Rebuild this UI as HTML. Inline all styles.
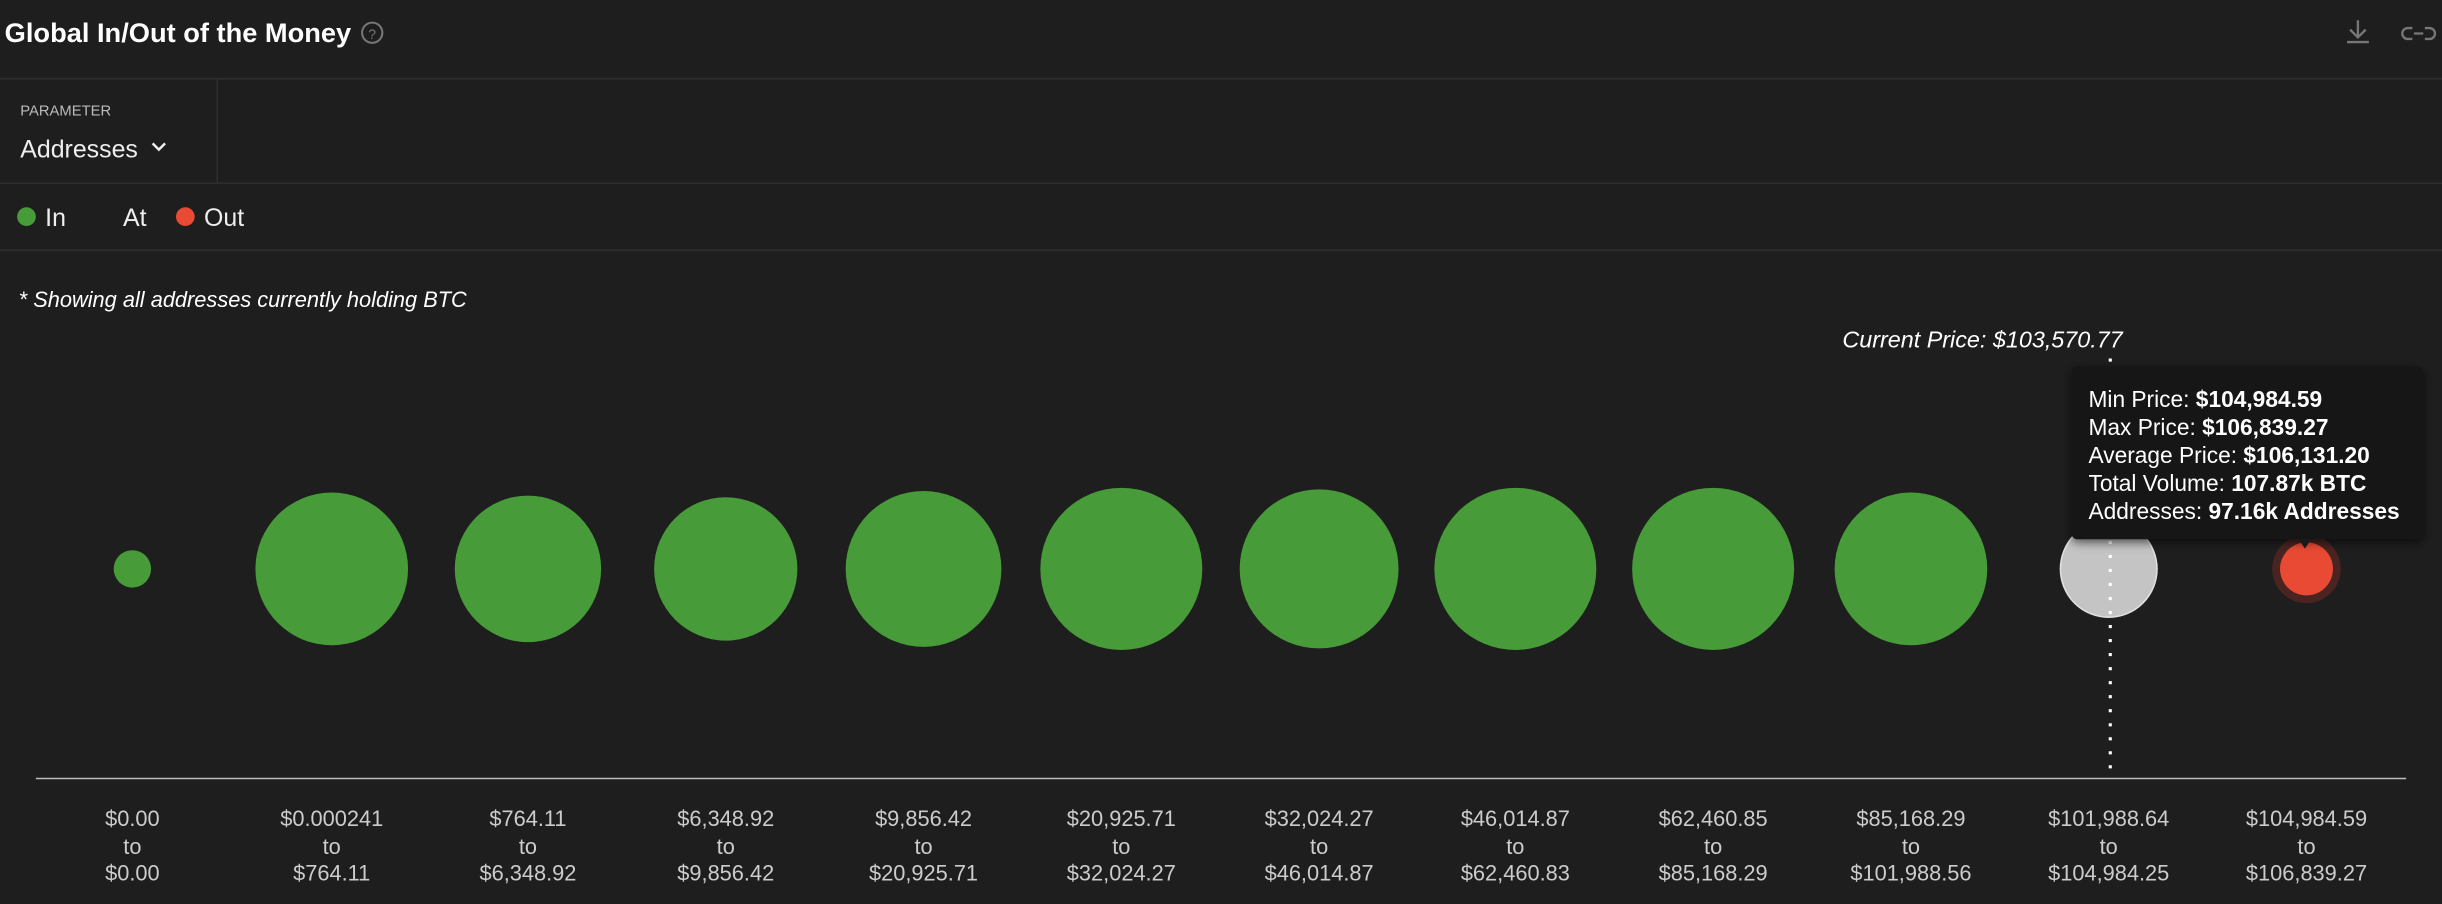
<!DOCTYPE html>
<html><head><meta charset="utf-8"><style>
html,body{margin:0;padding:0;background:#1e1e1e;}
svg{display:block;}
text{font-family:"Liberation Sans",sans-serif;}
</style></head><body>
<svg width="2442" height="904" viewBox="0 0 1568 580" preserveAspectRatio="none" xmlns="http://www.w3.org/2000/svg">
<defs><filter id="sh" x="-10%" y="-10%" width="120%" height="130%"><feDropShadow dx="0" dy="2" stdDeviation="3" flood-color="#000" flood-opacity="0.6"/></filter></defs>
<rect width="1568" height="580" fill="#1e1e1e"/>
<text x="3" y="27" fill="#fff" font-size="17.5" font-weight="bold">Global In/Out of the Money</text>
<circle cx="239" cy="21" r="6.5" fill="none" stroke="#777" stroke-width="1.3"/>
<text x="239" y="25" fill="#777" font-size="9" text-anchor="middle">?</text>
<g stroke="#777" stroke-width="1.5" fill="none">
<path d="M1514 13v11M1509 19l5 5 5-5M1507 27h14"/>
<path d="M1549 18h-3a3.5 3.5 0 0 0 0 7h3M1557 18h3a3.5 3.5 0 0 1 0 7h-3M1550 21.5h6"/>
</g>
<line x1="0" y1="50.5" x2="1568" y2="50.5" stroke="#2e2e2e"/>
<line x1="139.5" y1="51" x2="139.5" y2="117" stroke="#2e2e2e"/>
<line x1="0" y1="117.5" x2="1568" y2="117.5" stroke="#2e2e2e"/>
<text x="13" y="74" fill="#bbb" font-size="9.5">PARAMETER</text>
<text x="13" y="101" fill="#eee" font-size="16">Addresses</text>
<path d="M98 92l4 4 4-4" stroke="#eee" stroke-width="1.6" fill="none"/>
<circle cx="17" cy="139" r="6" fill="#479b39"/>
<text x="29" y="145" fill="#eee" font-size="16">In</text>
<text x="79" y="145" fill="#eee" font-size="16">At</text>
<circle cx="119" cy="139" r="6" fill="#e84a33"/>
<text x="131" y="145" fill="#eee" font-size="16">Out</text>
<line x1="0" y1="160.5" x2="1568" y2="160.5" stroke="#2e2e2e"/>
<text x="12" y="197" fill="#fff" font-size="14" font-style="italic">* Showing all addresses currently holding BTC</text>
<text x="1363" y="223" fill="#fff" font-size="15" font-style="italic" text-anchor="end">Current Price: $103,570.77</text>
<g fill="#479b39">
<circle cx="85" cy="365" r="12"/>
<circle cx="213" cy="365" r="49"/>
<circle cx="339" cy="365" r="47"/>
<circle cx="466" cy="365" r="46"/>
<circle cx="593" cy="365" r="50"/>
<circle cx="720" cy="365" r="52"/>
<circle cx="847" cy="365" r="51"/>
<circle cx="973" cy="365" r="52"/>
<circle cx="1100" cy="365" r="52"/>
<circle cx="1227" cy="365" r="49"/>
</g>
<circle cx="1354" cy="365" r="31" fill="#c4c4c4" stroke="#e0e0e0" stroke-width="1"/>
<circle cx="1481" cy="365" r="22" fill="#4a2420"/>
<circle cx="1481" cy="365" r="17" fill="#e84a33"/>
<line x1="1355" y1="230" x2="1355" y2="500" stroke="#fff" stroke-width="2" stroke-dasharray="2 7"/>
<line x1="23" y1="499.5" x2="1545" y2="499.5" stroke="#bbb" stroke-width="1"/>
<g fill="#ccc" font-size="14" text-anchor="middle">
<text x="85" y="530">$0.00</text><text x="85" y="548">to</text><text x="85" y="565">$0.00</text>
<text x="213" y="530">$0.000241</text><text x="213" y="548">to</text><text x="213" y="565">$764.11</text>
<text x="339" y="530">$764.11</text><text x="339" y="548">to</text><text x="339" y="565">$6,348.92</text>
<text x="466" y="530">$6,348.92</text><text x="466" y="548">to</text><text x="466" y="565">$9,856.42</text>
<text x="593" y="530">$9,856.42</text><text x="593" y="548">to</text><text x="593" y="565">$20,925.71</text>
<text x="720" y="530">$20,925.71</text><text x="720" y="548">to</text><text x="720" y="565">$32,024.27</text>
<text x="847" y="530">$32,024.27</text><text x="847" y="548">to</text><text x="847" y="565">$46,014.87</text>
<text x="973" y="530">$46,014.87</text><text x="973" y="548">to</text><text x="973" y="565">$62,460.83</text>
<text x="1100" y="530">$62,460.85</text><text x="1100" y="548">to</text><text x="1100" y="565">$85,168.29</text>
<text x="1227" y="530">$85,168.29</text><text x="1227" y="548">to</text><text x="1227" y="565">$101,988.56</text>
<text x="1354" y="530">$101,988.64</text><text x="1354" y="548">to</text><text x="1354" y="565">$104,984.25</text>
<text x="1481" y="530">$104,984.59</text><text x="1481" y="548">to</text><text x="1481" y="565">$106,839.27</text>
</g>
<rect x="1330" y="235" width="226" height="111" rx="4" fill="#191919" filter="url(#sh)"/>
<path d="M1476 346l4 6 4-6z" fill="#191919"/>
<g fill="#fff" font-size="14.6">
<text x="1341" y="261">Min Price: <tspan font-weight="bold">$104,984.59</tspan></text>
<text x="1341" y="279">Max Price: <tspan font-weight="bold">$106,839.27</tspan></text>
<text x="1341" y="297">Average Price: <tspan font-weight="bold">$106,131.20</tspan></text>
<text x="1341" y="315">Total Volume: <tspan font-weight="bold">107.87k BTC</tspan></text>
<text x="1341" y="333">Addresses: <tspan font-weight="bold">97.16k Addresses</tspan></text>
</g>
</svg>
</body></html>
